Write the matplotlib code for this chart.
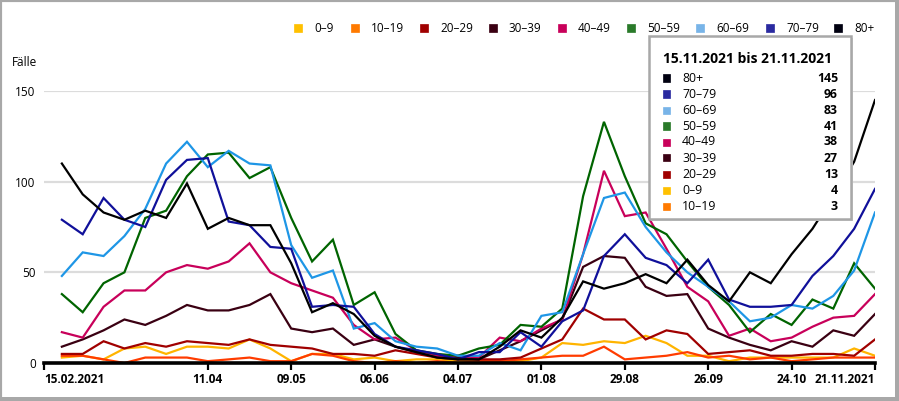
import matplotlib
matplotlib.use("Agg")
import matplotlib.pyplot as plt
import matplotlib.dates as mdates
from matplotlib.patches import Rectangle
import pandas as pd
import numpy as np

plt.rcParams['font.family'] = ['Open Sans', 'DejaVu Sans']

# ---- data (weekly, week ending Sunday) ----
dates = pd.date_range("2021-02-21", "2021-11-21", freq="7D")

age_groups = ["0–9", "10–19", "20–29", "30–39", "40–49", "50–59", "60–69", "70–79", "80+"]

v_0_9 = [3, 4, 2, 8, 9, 5, 9, 9, 8, 13, 8, 1, 5, 5, 2, 3, 1, 2, 2, 1,
         1, 1, 1, 3, 11, 10, 12, 11, 15, 11, 4, 4, 1, 3, 3, 3, 3, 3, 8, 4]
v_10_19 = [4, 4, 2, 0, 3, 3, 3, 1, 2, 3, 1, 1, 5, 4, 1, 0, 1, 0, 1, 0,
           1, 1, 2, 3, 4, 4, 9, 2, 3, 4, 6, 3, 4, 2, 3, 1, 2, 3, 3, 3]
v_20_29 = [5, 5, 12, 8, 11, 9, 12, 11, 10, 13, 10, 9, 8, 5, 5, 4, 7, 5, 3, 2,
           2, 2, 3, 8, 13, 30, 24, 24, 13, 18, 16, 5, 6, 7, 4, 4, 5, 5, 4, 13]
v_30_39 = [9, 13, 18, 24, 21, 26, 32, 29, 29, 32, 38, 19, 17, 19, 10, 13, 9, 6, 4, 3,
           2, 7, 12, 18, 24, 53, 59, 58, 42, 37, 38, 19, 14, 10, 7, 12, 9, 18, 15, 27]
v_40_49 = [17, 14, 31, 40, 40, 50, 54, 52, 56, 66, 50, 44, 40, 36, 21, 13, 14, 7, 4, 4,
           3, 14, 12, 19, 24, 60, 106, 81, 83, 63, 42, 34, 15, 19, 12, 14, 20, 25, 26, 38]
v_50_59 = [38, 28, 44, 50, 80, 84, 103, 115, 116, 102, 108, 80, 56, 68, 32, 39, 16, 7, 5, 4,
           8, 10, 21, 20, 30, 92, 133, 103, 77, 71, 56, 42, 32, 17, 27, 21, 35, 30, 55, 41]
v_60_69 = [48, 61, 59, 70, 85, 110, 122, 108, 117, 110, 109, 65, 47, 51, 19, 22, 12, 9, 8, 4,
           4, 11, 7, 26, 28, 60, 91, 94, 75, 61, 50, 42, 34, 23, 25, 32, 30, 37, 51, 83]
v_70_79 = [79, 71, 91, 79, 75, 101, 112, 113, 78, 76, 64, 63, 31, 32, 31, 16, 9, 7, 5, 2,
           6, 6, 17, 9, 23, 29, 59, 71, 58, 54, 44, 57, 35, 31, 31, 32, 48, 59, 74, 96]
v_80 = [110, 93, 83, 79, 84, 80, 99, 74, 80, 76, 76, 55, 28, 33, 27, 15, 9, 6, 3, 2,
        2, 9, 18, 14, 25, 45, 41, 44, 49, 44, 57, 43, 34, 50, 44, 60, 74, 92, 111, 145]

series = [v_0_9, v_10_19, v_20_29, v_30_39, v_40_49, v_50_59, v_60_69, v_70_79, v_80]
colors = ["#ffb400", "#ff3c00", "#a00000", "#3a0012", "#c8005a",
          "#006400", "#1e96e6", "#10109a", "#000000"]
legend_colors = ["#ffc000", "#ff7a00", "#a00000", "#3a0012", "#c8005a",
                 "#2a7a2a", "#78b4e8", "#2a2aa0", "#000010"]

tick_dates = pd.to_datetime(["2021-02-15", "2021-04-11", "2021-05-09", "2021-06-06",
                             "2021-07-04", "2021-08-01", "2021-08-29", "2021-09-26",
                             "2021-10-24", "2021-11-21"])
tick_labels = ["15.02.2021", "11.04", "09.05", "06.06", "04.07", "01.08",
               "29.08", "26.09", "24.10", "21.11.2021"]
y_ticks = [0, 50, 100, 150]

tooltip_title = "15.11.2021 bis 21.11.2021"
tooltip_order = ["80+", "70–79", "60–69", "50–59", "40–49", "30–39", "20–29", "0–9", "10–19"]

# ---- figure ----
W, H = 899, 401
fig = plt.figure(figsize=(W / 100, H / 100), dpi=100)

def fx(x):
    return x / W

def fy(y):
    return 1 - y / H

ax_l, ax_r, ax_t, ax_b = 44, 875, 91, 363
ax = fig.add_axes([fx(ax_l), fy(ax_b), (ax_r - ax_l) / W, (ax_b - ax_t) / H])

for vals, c in zip(series, colors):
    ax.plot(dates, vals, color=c, lw=1.6, solid_joinstyle='miter', zorder=3)

ax.set_xlim(pd.Timestamp("2021-02-15"), pd.Timestamp("2021-11-21"))
ax.set_ylim(0, 150)
ax.set_yticks(y_ticks)
ax.set_yticklabels([str(t) for t in y_ticks], fontsize=8.5)
for t in y_ticks[1:]:
    ax.axhline(t, color="#dcdcdc", lw=1.6, zorder=1)
ax.tick_params(axis='y', length=0, pad=6)

ax.set_xticks(tick_dates)
ax.set_xticklabels(tick_labels, fontsize=8.5, fontweight='bold')
ax.tick_params(axis='x', direction='out', length=5, width=1.6, color='black', pad=2)
labs = ax.get_xticklabels()
labs[0].set_horizontalalignment('left')
labs[-1].set_horizontalalignment('right')

for s in ['top', 'right', 'left']:
    ax.spines[s].set_visible(False)
ax.spines['bottom'].set_linewidth(2.6)
ax.spines['bottom'].set_color('black')
ax.spines['bottom'].set_zorder(5)

fig.text(fx(12), fy(62), "Fälle", fontsize=8.5, va='center', ha='left')

# ---- top legend ----
leg_sq_x = [298, 355, 424, 493, 562, 631, 700, 770, 838]
for name, c, sx in zip(age_groups, legend_colors, leg_sq_x):
    fig.patches.append(Rectangle((fx(sx - 4), fy(32)), 8 / W, 8 / H,
                                 transform=fig.transFigure, facecolor=c,
                                 edgecolor=c, lw=0.5, figure=fig))
    fig.text(fx(sx + 16), fy(28), name, fontsize=8.5, va='center', ha='left')

# ---- tooltip box ----
bx0, by0, bx1, by1 = 649, 36, 851, 219
fig.patches.append(Rectangle((fx(bx0 + 2), fy(by1 + 2)), (bx1 - bx0) / W, (by1 - by0) / H,
                             transform=fig.transFigure, facecolor="#d8d8d8",
                             edgecolor='none', zorder=9, figure=fig))
fig.patches.append(Rectangle((fx(bx0), fy(by1)), (bx1 - bx0) / W, (by1 - by0) / H,
                             transform=fig.transFigure, facecolor="white",
                             edgecolor="#a8a8a8", lw=1.8, zorder=10, figure=fig))
fig.text(fx(663), fy(59), tooltip_title, fontsize=10, fontweight='bold',
         va='center', ha='left', zorder=11)
last_vals = {name: vals[-1] for name, vals in zip(age_groups, series)}
col_map = dict(zip(age_groups, legend_colors))
for i, name in enumerate(tooltip_order):
    yy = 78 + 16 * i
    fig.patches.append(Rectangle((fx(663), fy(yy + 3.5)), 7 / W, 7 / H,
                                 transform=fig.transFigure, facecolor=col_map[name],
                                 edgecolor=col_map[name], lw=0.5, zorder=11, figure=fig))
    fig.text(fx(682), fy(yy), name, fontsize=8.8, va='center', ha='left', zorder=11)
    fig.text(fx(838), fy(yy), str(last_vals[name]), fontsize=8.8, fontweight='bold',
             va='center', ha='right', zorder=11)

# ---- outer frame ----
fig.patches.append(Rectangle((0, 0), 1, 1, transform=fig.transFigure, fill=False,
                             edgecolor="#a8a8a8", lw=3, zorder=20, figure=fig))
fig.patches.append(Rectangle((0, 0), 1, 4 / H, transform=fig.transFigure,
                             facecolor="#a8a8a8", edgecolor='none', zorder=20, figure=fig))
fig.patches.append(Rectangle((1 - 4 / W, 0), 4 / W, 1, transform=fig.transFigure,
                             facecolor="#a8a8a8", edgecolor='none', zorder=20, figure=fig))

fig.savefig("out.png", dpi=100)
